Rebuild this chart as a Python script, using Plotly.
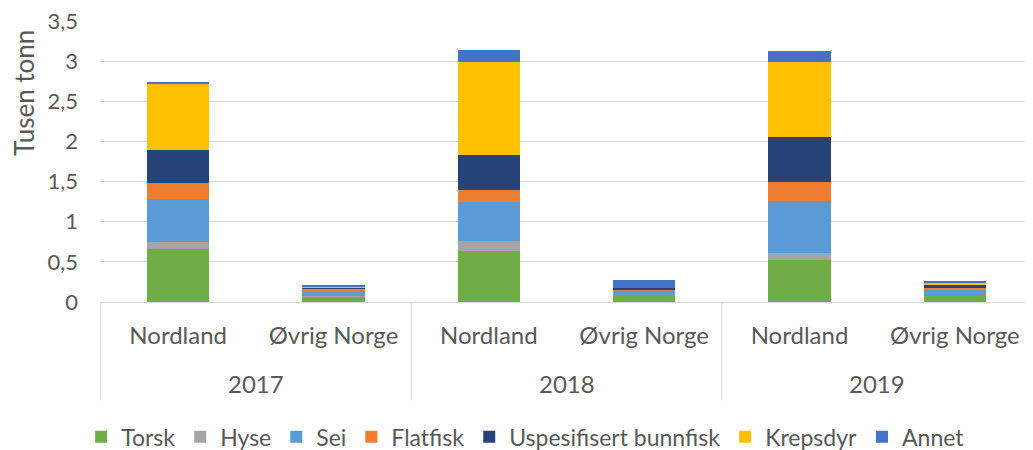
import plotly.graph_objects as go

years = ["2017", "2017", "2018", "2018", "2019", "2019"]
regions = ["Nordland", "Øvrig Norge"] * 3

torsk = [0.66, 0.07, 0.64, 0.075, 0.52, 0.075]
hyse = [0.085, 0.005, 0.12, 0.005, 0.09, 0.005]
sei = [0.535, 0.06, 0.49, 0.06, 0.65, 0.08]
flatfisk = [0.20, 0.03, 0.15, 0.005, 0.24, 0.02]
bunnfisk = [0.41, 0.01, 0.43, 0.03, 0.55, 0.035]
krepsdyr = [0.83, 0.015, 1.16, 0.005, 0.94, 0.02]
annet = [0.02, 0.01, 0.15, 0.10, 0.14, 0.03]

series = [
    ("Torsk", torsk, "#70AD47"),
    ("Hyse", hyse, "#A5A5A5"),
    ("Sei", sei, "#5B9BD5"),
    ("Flatfisk", flatfisk, "#ED7D31"),
    ("Uspesifisert bunnfisk", bunnfisk, "#264478"),
    ("Krepsdyr", krepsdyr, "#FFC000"),
    ("Annet", annet, "#4472C4"),
]

# one category per bar, labelled with the region name only
keys = [y + " " + r for y, r in zip(years, regions)]

fig = go.Figure()
for name, vals, col in series:
    fig.add_trace(go.Bar(x=keys, y=vals, name=name,
                         marker=dict(color=col, line=dict(width=0))))

grey = "#D9D9D9"
# year labels under each pair + vertical dividers
for i in range(0, len(keys), 2):
    fig.add_annotation(x=i + 0.5, y=-0.295 - 15 / 281, xref="x", yref="paper",
                       text=years[i], showarrow=False,
                       font=dict(size=24, color="#595959"))
for b in [-0.5, 1.5, 3.5, 5.5]:
    fig.add_shape(type="line", xref="x", yref="paper", x0=b, x1=b, y0=0, y1=-0.35,
                  line=dict(color=grey, width=1))

# y title sits high up, like in Excel
fig.add_annotation(text="Tusen tonn", textangle=-90, showarrow=False,
                   xref="paper", yref="paper", x=-76 / 933, y=0.744,
                   xanchor="center", yanchor="middle",
                   font=dict(size=26, color="#595959"))

# page body has an 8px margin, so the figure is 8px smaller and shifted
fig.update_layout(
    barmode="stack",
    bargap=0.6,
    separators=", ",
    width=1025, height=442,
    margin=dict(l=92, r=0, t=13, b=148),
    plot_bgcolor="white",
    paper_bgcolor="white",
    font=dict(family="Lato", size=24, color="#595959"),
    legend=dict(orientation="h", xref="container", x=0.505, xanchor="center",
                yref="container", y=0.03, yanchor="middle",
                font=dict(size=23, color="#595959"), traceorder="normal"),
)
fig.update_yaxes(
    range=[0, 3.5], dtick=0.5, automargin=False,
    showgrid=True, gridcolor=grey, gridwidth=1,
    zeroline=False, tickfont=dict(size=22), ticklabelstandoff=21,
    ticklabeloverflow="allow",
)
fig.update_xaxes(
    type="category", automargin=False,
    tickvals=keys, ticktext=regions,
    showline=True, linecolor=grey,
    tickfont=dict(size=24), ticklabelstandoff=12,
)
fig.write_html("out.html")
